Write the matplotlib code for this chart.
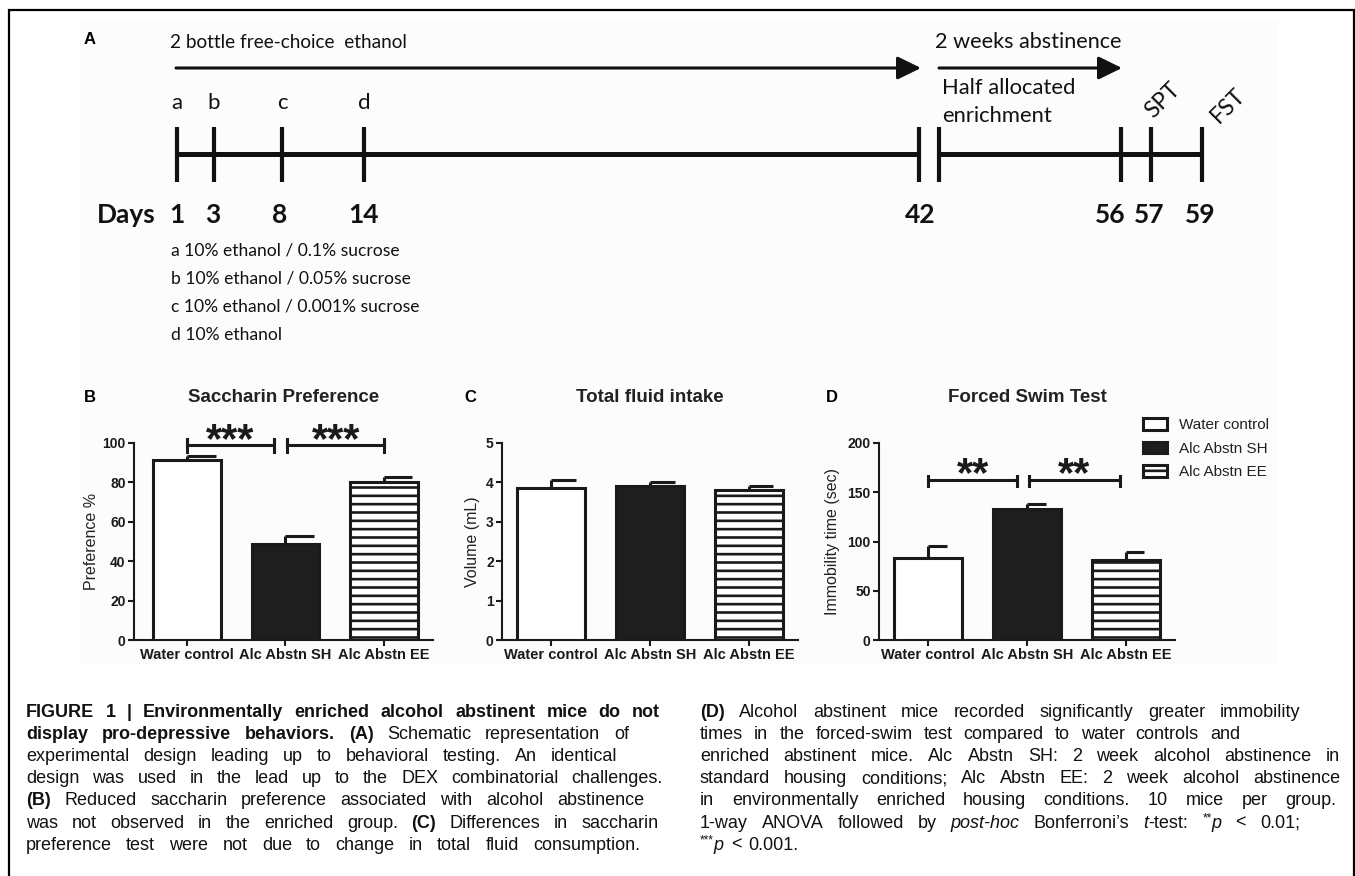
import re
import numpy as np
import matplotlib
matplotlib.use("Agg")
import matplotlib.pyplot as plt
from matplotlib.patches import Rectangle

# ---------------- data ----------------
groups = ["Water control", "Alc Abstn SH", "Alc Abstn EE"]
pref_mean = [91.4, 48.7, 80.2]
pref_sem = [1.8, 4.0, 2.6]
fluid_mean = [3.86, 3.91, 3.80]
fluid_sem = [0.19, 0.09, 0.12]
fst_mean = [83.0, 133.0, 81.0]
fst_sem = [12.0, 5.5, 8.5]
pref_sig = ["***", "***"]
fst_sig = ["**", "**"]

timeline_days = ["1", "3", "8", "14", "42", "56", "57", "59"]
phase_letters = ["a", "b", "c", "d"]
phase_desc = ["a 10% ethanol / 0.1% sucrose",
              "b 10% ethanol / 0.05% sucrose",
              "c 10% ethanol / 0.001% sucrose",
              "d 10% ethanol"]

caption_left = [
    "{b:FIGURE} {b:1} {b:|} {b:Environmentally} {b:enriched} {b:alcohol} {b:abstinent} {b:mice} {b:do} {b:not}",
    "{b:display} {b:pro-depressive} {b:behaviors.} {b:(A)} Schematic representation of",
    "experimental design leading up to behavioral testing. An identical",
    "design was used in the lead up to the DEX combinatorial challenges.",
    "{b:(B)} Reduced saccharin preference associated with alcohol abstinence",
    "was not observed in the enriched group. {b:(C)} Differences in saccharin",
    "preference test were not due to change in total fluid consumption.",
]
caption_right = [
    "{b:(D)} Alcohol abstinent mice recorded significantly greater immobility",
    "times in the forced-swim test compared to water controls and",
    "enriched abstinent mice. Alc Abstn SH: 2 week alcohol abstinence in",
    "standard housing conditions; Alc Abstn EE: 2 week alcohol abstinence",
    "in environmentally enriched housing conditions. 10 mice per group.",
    "1-way ANOVA followed by {i:post-hoc} Bonferroni\u2019s {i:t}-test: {s:**}{i:p} < 0.01;",
    "{s:***}{i:p} < 0.001.",
]

# ---------------- layout (pixels) ----------------
W, H = 1355, 876
INK = "#1a1a1a"
plt.rcParams["hatch.linewidth"] = 1.9
plt.rcParams["hatch.color"] = INK
SANS = ["Liberation Sans", "DejaVu Sans"]
CAL = ["Lato", "DejaVu Sans"]

fig = plt.figure(figsize=(W / 100, H / 100), dpi=100)
ov = fig.add_axes([0, 0, 1, 1], zorder=0)
ov.set_xlim(0, W)
ov.set_ylim(H, 0)
ov.axis("off")

# frame + light panel background
ov.plot([9, 9, 1354, 1354], [H + 5, 10, 10, H + 5], color="black", lw=1.6,
        solid_joinstyle="miter", clip_on=False)
ov.add_patch(Rectangle((80, 20), 1198, 645, facecolor="#fcfcfc", edgecolor="none", zorder=0))

# ---------------- panel A (schematic) ----------------
tick_x = [177, 214, 282, 364, 919, 1121, 1151, 1202]
break_x = 939
day_label_x = [177, 213, 280, 364, 920, 1110, 1149, 1200]
line_y, tick_top, tick_bot = 154, 127, 182
TXT = "#111"

ov.text(90, 40, "A", fontsize=12, fontweight="bold", family=SANS, ha="center", va="center")
ov.text(170, 42, "2 bottle free-choice  ethanol", fontsize=13.7, family=CAL, color=TXT,
        ha="left", va="center")
ov.text(935, 42, "2 weeks abstinence", fontsize=15.6, family=CAL, color=TXT,
        ha="left", va="center")
arrow_kw = dict(arrowstyle="-|>,head_length=0.45,head_width=0.22", lw=2.2, color=TXT,
                mutation_scale=32, shrinkA=0, shrinkB=0)
ov.annotate("", xy=(921, 68), xytext=(176, 68), arrowprops=arrow_kw)
ov.annotate("", xy=(1122, 68), xytext=(939, 68), arrowprops=arrow_kw)
ov.text(942, 88, "Half allocated", fontsize=15.8, family=CAL, color=TXT, ha="left", va="center")
ov.text(942, 116, "enrichment", fontsize=15.8, family=CAL, color=TXT, ha="left", va="center")

ov.plot([tick_x[0], tick_x[4]], [line_y, line_y], color=TXT, lw=3.6, solid_capstyle="butt")
ov.plot([break_x, tick_x[-1]], [line_y, line_y], color=TXT, lw=3.6, solid_capstyle="butt")
for x in tick_x + [break_x]:
    ov.plot([x, x], [tick_top, tick_bot], color=TXT, lw=3.0, solid_capstyle="butt")
for x, lab in zip(tick_x[:4], phase_letters):
    ov.text(x, 103, lab, fontsize=16, family=CAL, color=TXT, ha="center", va="center")
ov.text(1163, 100, "SPT", fontsize=16.5, family=CAL, color=TXT, rotation=45,
        ha="center", va="center")
ov.text(1228, 106, "FST", fontsize=16.5, family=CAL, color=TXT, rotation=45,
        ha="center", va="center")

ov.text(156, 215, "Days", fontsize=19, fontweight="bold", family=CAL, color=TXT,
        ha="right", va="center")
for x, lab in zip(day_label_x, timeline_days):
    ov.text(x, 215, lab, fontsize=19, fontweight="bold", family=CAL, color=TXT,
            ha="center", va="center")
for i, s in enumerate(phase_desc):
    ov.text(171, 250 + 28.3 * i, s, fontsize=12.6, family=CAL, color=TXT, ha="left", va="center")

# ---------------- bar panels ----------------
def rect(l, r, top, bot):
    return [l / W, 1 - bot / H, (r - l) / W, (bot - top) / H]


def bar_panel(pos, xlim, means, sems, ylim, yticks, capw, letter, lx, title, ylabel, ylx):
    ax = fig.add_axes(rect(*pos), zorder=2)
    ax.set_facecolor("none")
    x = np.arange(len(means))
    bars = ax.bar(x, means, width=0.69, color=["white", "#1e1e1e", "white"],
                  edgecolor=INK, linewidth=2.2, zorder=3)
    bars[2].set_hatch("--")
    top = np.array(means) + np.array(sems)
    ax.vlines(x, means, top, color=INK, lw=2.2, zorder=2)
    ax.hlines(top, x, x + capw, color=INK, lw=2.2, zorder=2)
    ax.set_xlim(*xlim)
    ax.set_ylim(*ylim)
    ax.set_yticks(yticks)
    ax.set_xticks(x)
    ax.set_xticklabels(groups)
    for s in ("top", "right"):
        ax.spines[s].set_visible(False)
    for s in ("left", "bottom"):
        ax.spines[s].set_linewidth(1.5)
        ax.spines[s].set_color(INK)
    ax.tick_params(axis="both", direction="out", length=4.5, width=1.5, color=INK, pad=1.5)
    for lab in ax.get_xticklabels():
        lab.set_fontfamily(SANS)
        lab.set_fontweight("bold")
        lab.set_fontsize(10.5)
        lab.set_color(INK)
    for lab in ax.get_yticklabels():
        lab.set_fontfamily(SANS)
        lab.set_fontweight("bold")
        lab.set_fontsize(10)
        lab.set_color(INK)
    cx = (pos[0] + pos[1]) / 2
    ov.text(lx, 397, letter, fontsize=12, fontweight="bold", family=SANS, ha="center", va="center")
    ov.text(cx, 397, title, fontsize=13.5, fontweight="bold", family=SANS, color="#222",
            ha="center", va="center")
    ov.text(ylx, (pos[2] + pos[3]) / 2, ylabel, fontsize=11.5, family=SANS, color="#222",
            rotation=90, ha="center", va="center")
    return ax, bars


def sig(ax, x0, x1, y, h, label, ystar, size):
    ax.plot([x0, x0, x0, x1, x1, x1], [y - h, y + h, y, y, y + h, y - h], color=INK, lw=2.2,
            clip_on=False, solid_joinstyle="miter")
    ax.text((x0 + x1) / 2, ystar, label, fontsize=size, fontweight="bold", family=SANS,
            ha="center", va="baseline", color=INK, clip_on=False)


axB, _ = bar_panel((134, 433, 443, 640), (-0.54, 2.5), pref_mean, pref_sem, (0, 100),
                   [0, 20, 40, 60, 80, 100], 0.29, "B", 90, "Saccharin Preference",
                   "Preference %", 92)
sig(axB, 0.0, 0.88, 99, 3.5, pref_sig[0], 95.2, 30)
sig(axB, 1.02, 2.0, 99, 3.5, pref_sig[1], 95.2, 30)

axC, _ = bar_panel((502, 798, 443, 640), (-0.5, 2.5), fluid_mean, fluid_sem, (0, 5),
                   [0, 1, 2, 3, 4, 5], 0.25, "C", 470, "Total fluid intake", "Volume (mL)", 473)

axD, barsD = bar_panel((879, 1175, 443, 640), (-0.5, 2.5), fst_mean, fst_sem, (0, 200),
                       [0, 50, 100, 150, 200], 0.19, "D", 832, "Forced Swim Test",
                       "Immobility time (sec)", 833)
sig(axD, 0.0, 0.9, 162, 6, fst_sig[0], 156, 30)
sig(axD, 1.02, 1.94, 162, 6, fst_sig[1], 156, 30)

leg = axD.legend(list(barsD), groups, loc="upper left",
                 bbox_to_anchor=(1143 / W, 1 - 418 / H), bbox_transform=fig.transFigure,
                 frameon=False, fontsize=11, handlelength=1.55, handleheight=0.8,
                 handletextpad=0.8, labelspacing=0.62, borderpad=0, borderaxespad=0)
for t in leg.get_texts():
    t.set_fontfamily(SANS)
    t.set_color("#222")

# ---------------- caption (justified) ----------------
CAP_SIZE = 13
styles = {
    "n": dict(fontweight="normal", fontstyle="normal", fontsize=CAP_SIZE, dy=0),
    "b": dict(fontweight="bold", fontstyle="normal", fontsize=CAP_SIZE, dy=0),
    "i": dict(fontweight="normal", fontstyle="italic", fontsize=CAP_SIZE, dy=0),
    "s": dict(fontweight="normal", fontstyle="normal", fontsize=8.5, dy=-6),
}
renderer = fig.canvas.get_renderer()


def parse(word):
    runs = []
    for m in re.finditer(r"\{(\w):([^}]*)\}|([^{}]+)", word):
        if m.group(1):
            runs.append((m.group(2), m.group(1)))
        else:
            runs.append((m.group(3), "n"))
    return runs


def set_line(text, x0, x1, y, natural_gap=7):
    words = []
    for w in text.split(" "):
        objs = []
        for s, st in parse(w):
            kw = dict(styles[st])
            dy = kw.pop("dy")
            t = ov.text(0, y + dy, s, family=SANS, color="#111", ha="left", va="baseline", **kw)
            objs.append(t)
        widths = [o.get_window_extent(renderer).width for o in objs]
        words.append((objs, widths))
    total = sum(sum(w) for _, w in words)
    gap = natural_gap if x1 is None else max(3.5, (x1 - x0 - total) / (len(words) - 1))
    x = x0
    for objs, widths in words:
        for o, wd in zip(objs, widths):
            o.set_x(x)
            x += wd
        x += gap


cap_y = [717 + 22.1 * i for i in range(8)]
left_ends = [660, 629, 617, 663, 644, 659, 640]
right_ends = [1300, 1240, 1340, 1340, 1336, 1300, None]
for i, line in enumerate(caption_left):
    set_line(line, 26, left_ends[i], cap_y[i])
for i, line in enumerate(caption_right):
    set_line(line, 700, right_ends[i], cap_y[i])

fig.savefig("out.png", dpi=100, facecolor="white")
